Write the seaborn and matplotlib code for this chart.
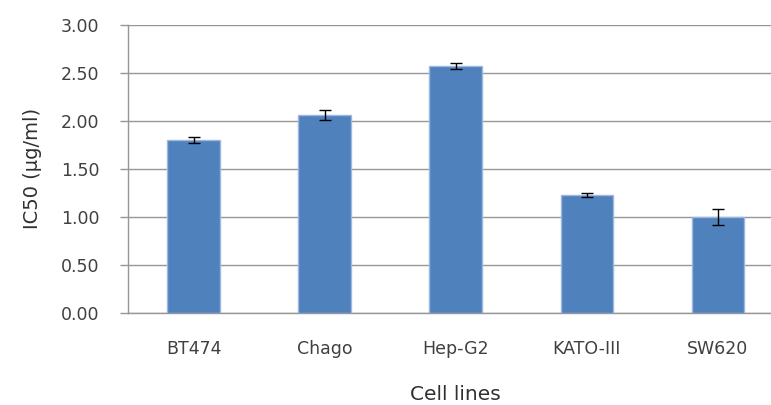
import numpy as np
import pandas as pd
from matplotlib import pyplot as plt
import seaborn as sns

cell_lines = ["BT474", "Chago", "Hep-G2", "KATO-III", "SW620"]
ic50 = [1.80, 2.06, 2.57, 1.23, 1.00]
ic50_err = [0.035, 0.05, 0.035, 0.02, 0.085]

sns.set_style("white")
plt.rcParams['font.family'] = ['DejaVu Sans']

df = pd.DataFrame({"cell": cell_lines, "ic50": ic50})

fig = plt.figure(figsize=(7.71, 4.05), dpi=100)
ax = fig.add_axes([0.166, 0.228, 0.850, 0.711])

sns.barplot(data=df, x="cell", y="ic50", color="#4F81BD", width=0.4,
            saturation=1, edgecolor="#9db8dc", linewidth=1, ax=ax, zorder=3)
ax.errorbar(np.arange(len(cell_lines)), ic50, yerr=ic50_err, fmt="none",
            ecolor="black", elinewidth=1, capsize=4, capthick=1, zorder=4)

ax.set_xlim(-0.5, len(cell_lines) - 0.5)
ax.set_ylim(0, 3)
ax.set_yticks(np.arange(0, 3.01, 0.5))
ax.set_yticklabels([f"{v:.2f}" for v in np.arange(0, 3.01, 0.5)])
ax.grid(axis="y", color="#969696", linewidth=1, zorder=0)

# category boundary ticks below the axis
ax.set_xticks(np.arange(-0.5, len(cell_lines)), minor=True)
ax.tick_params(axis="x", which="minor", length=6, width=1, color="#969696",
               direction="out")
ax.tick_params(axis="x", which="major", length=0, pad=20, labelsize=12.5,
               labelcolor="#404040")
ax.tick_params(axis="y", length=5.5, width=1, color="#969696", pad=15,
               labelsize=12.5, labelcolor="#404040", left=True)

for side in ["top", "right"]:
    ax.spines[side].set_visible(False)
for side in ["left", "bottom"]:
    ax.spines[side].set_color("#969696")
    ax.spines[side].set_linewidth(1)

ax.set_xlabel("Cell lines", fontsize=14.5, color="#303030", labelpad=19)
ax.set_ylabel("IC50 (μg/ml)", fontsize=14, color="#303030", labelpad=14)

fig.savefig("out.png", dpi=100)
